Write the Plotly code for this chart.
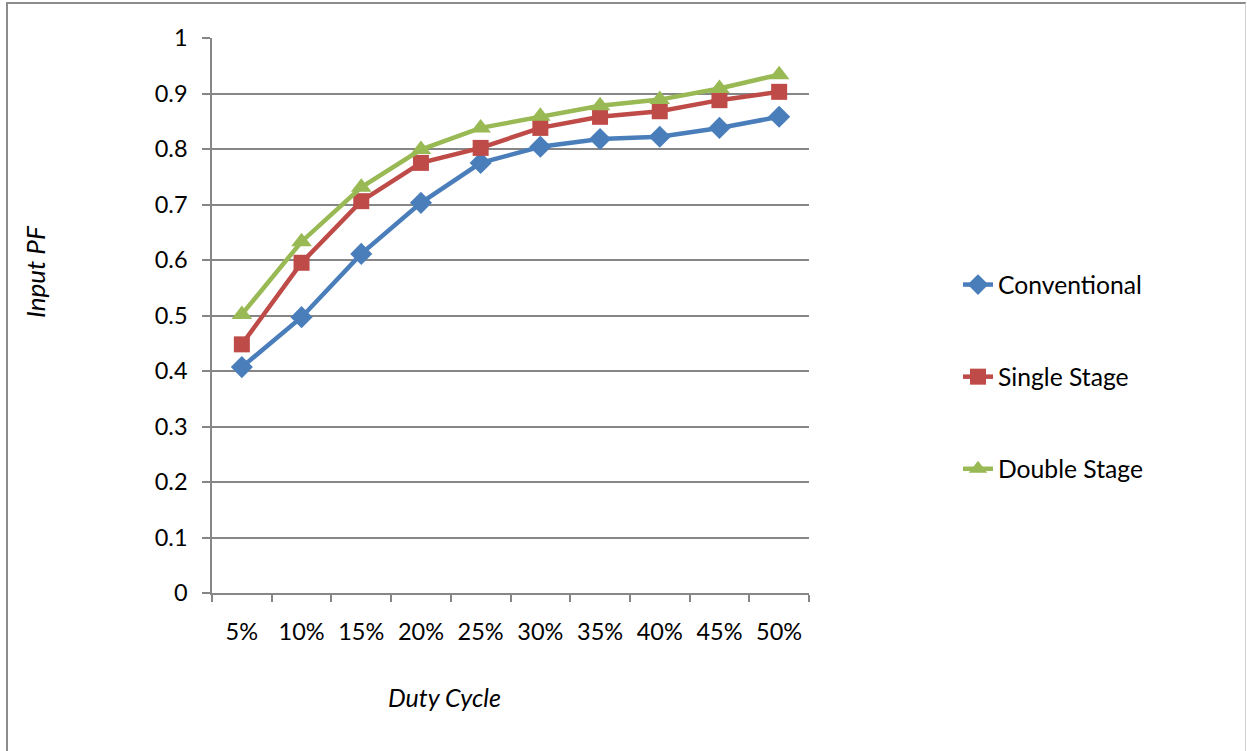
import plotly.graph_objects as go

duty_cycle = ["5%", "10%", "15%", "20%", "25%", "30%", "35%", "40%", "45%", "50%"]
conventional = [0.407, 0.497, 0.611, 0.703, 0.775, 0.804, 0.818, 0.822, 0.838, 0.858]
single_stage = [0.448, 0.595, 0.706, 0.775, 0.802, 0.838, 0.858, 0.868, 0.888, 0.903]
double_stage = [0.502, 0.633, 0.731, 0.799, 0.838, 0.859, 0.878, 0.889, 0.909, 0.934]
y_ticks = [0, 0.1, 0.2, 0.3, 0.4, 0.5, 0.6, 0.7, 0.8, 0.9, 1]

FONT = "Lato"
W, H = 1247, 751
L, R, T, B = 212, 809, 38, 593

series = [
    ("Conventional", conventional, "#4a7ebb", "diamond", 17),
    ("Single Stage", single_stage, "#be4b48", "square", 16),
    ("Double Stage", double_stage, "#98b954", "triangle-up", 18),
]

fig = go.Figure()
for name, vals, color, symbol, size in series:
    fig.add_trace(go.Scatter(
        x=duty_cycle, y=vals, name=name, mode="lines+markers",
        legendgroup=name,
        line=dict(color=color, width=4.5),
        marker=dict(symbol=symbol, size=size, color=color,
                    line=dict(width=0)),
    ))

# pixel -> paper coordinate helpers
px_x = lambda p: (p - L) / (R - L)
px_y = lambda p: (B - p) / (B - T)

# outer chart frame
fig.add_shape(type="line", xref="paper", yref="paper",
              x0=px_x(7), x1=px_x(7), y0=px_y(2), y1=px_y(760),
              line=dict(color="#8c8c8c", width=2))
fig.add_shape(type="line", xref="paper", yref="paper",
              x0=px_x(6), x1=px_x(1246), y0=px_y(3), y1=px_y(3),
              line=dict(color="#8c8c8c", width=2))
fig.add_shape(type="line", xref="paper", yref="paper",
              x0=px_x(1245.5), x1=px_x(1245.5), y0=px_y(3), y1=px_y(760),
              line=dict(color="#d0d0d0", width=1))

# axis titles
fig.add_annotation(text="<i>Duty Cycle</i>", xref="paper", yref="paper",
                   x=px_x(444), y=px_y(697), showarrow=False,
                   xanchor="center", yanchor="middle",
                   font=dict(size=25))
fig.add_annotation(text="<i>Input PF</i>", xref="paper", yref="paper",
                   x=px_x(35), y=px_y(272), showarrow=False, textangle=-90,
                   xanchor="center", yanchor="middle",
                   font=dict(size=26))

fig.update_layout(
    width=W, height=H,
    margin=dict(l=L, r=W - R, t=T, b=H - B, pad=0),
    paper_bgcolor="white", plot_bgcolor="white",
    font=dict(family=FONT, size=23.5, color="#000000"),
    showlegend=True,
    legend=dict(x=px_x(958), y=px_y(262), xanchor="left", yanchor="top",
                tracegroupgap=57, font=dict(size=24.7),
                itemwidth=30, bgcolor="rgba(0,0,0,0)"),
    xaxis=dict(
        type="category", range=[-0.5, 9.5],
        showline=True, linecolor="#868686", linewidth=1.5,
        showgrid=False, ticks="outside", ticklen=7, tickcolor="#868686",
        tickwidth=1.5, tickson="boundaries", ticklabelstandoff=17,
        zeroline=False,
    ),
    yaxis=dict(
        range=[0, 1], tickvals=y_ticks,
        ticktext=[f"{v:g}" for v in y_ticks],
        showline=True, linecolor="#868686", linewidth=1.5,
        showgrid=True, gridcolor="#868686", gridwidth=1.5,
        ticks="outside", ticklen=8, tickcolor="#868686", tickwidth=1.5,
        ticklabelstandoff=10,
        zeroline=False,
    ),
)

fig.write_html("out.html")
